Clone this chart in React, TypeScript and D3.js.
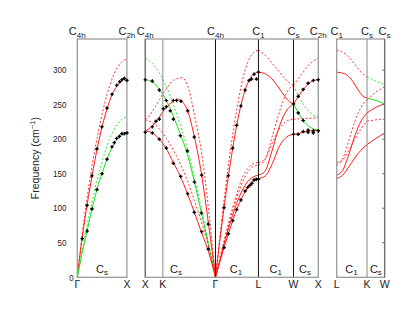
import React from 'react';
import * as d3 from 'd3';

const W = 415;
const H = 321;

// k-path positions in units of 2pi/a; three panels side by side
const panels = [[0, 1], [1.371, 4.859], [5.23, 6.196]];
const blackLines = [2.786, 3.652, 4.359];
const greyLines = [1.725, 5.842];
const yTicks = [0, 50, 100, 150, 200, 250, 300];

const topLabels: [string, number][] = [
  ['4h', 0], ['2h', 1], ['4h', 1.371], ['4h', 2.786], ['1', 3.652],
  ['s', 4.359], ['2h', 4.859], ['1', 5.23], ['s', 5.842], ['s', 6.196],
];
const bottomLabels: [string, number][] = [
  ['Γ', 0], ['X', 1], ['X', 1.371], ['K', 1.725], ['Γ', 2.786], ['L', 3.652],
  ['W', 4.359], ['X', 4.859], ['L', 5.23], ['K', 5.842], ['W', 6.196],
];
const innerLabels: [string, number][] = [
  ['s', 0.498], ['s', 1.99], ['1', 3.2], ['1', 4.0], ['s', 4.59], ['1', 5.528], ['s', 6.02],
];

type Curve = { c: 'r' | 'g'; d: boolean; p: [number, number][] };

// Γ -> X (left panel)
const gxCurves: Curve[] = [
  { c: 'r', d: false, p: [[0, 0], [0.1, 58], [0.2, 106], [0.3, 148], [0.4, 186], [0.5, 218], [0.6, 244], [0.7, 264], [0.8, 277], [0.9, 285], [0.95, 287], [1, 286]] },
  { c: 'r', d: true, p: [[0, 0], [0.1, 63], [0.2, 116], [0.3, 162], [0.4, 202], [0.5, 236], [0.6, 265], [0.7, 287], [0.8, 303], [0.9, 312], [1, 316]] },
  { c: 'g', d: false, p: [[0, 0], [0.1, 36], [0.2, 68], [0.3, 100], [0.4, 128], [0.5, 151], [0.6, 171], [0.7, 188], [0.8, 200], [0.9, 207], [1, 210]] },
  { c: 'g', d: true, p: [[0, 0], [0.1, 39], [0.2, 76], [0.3, 110], [0.4, 141], [0.5, 167], [0.6, 190], [0.7, 208], [0.8, 221], [0.9, 229], [1, 232]] },
];
const gxDots: [number, number][] = [
  [0.1, 56], [0.196, 104], [0.296, 147], [0.397, 186], [0.498, 218], [0.599, 245], [0.7, 265], [0.794, 278], [0.855, 283], [0.9, 286], [0.948, 288], [1, 285],
  [0.2, 67], [0.296, 99], [0.397, 127], [0.498, 150], [0.599, 171], [0.7, 189], [0.746, 195], [0.794, 201], [0.847, 204], [0.9, 208], [0.948, 208], [1, 209],
];

// X -> K -> Γ
const xgCurves: Curve[] = [
  { c: 'g', d: false, p: [[0, 286], [0.1, 283], [0.2, 272], [0.3, 256], [0.4, 233], [0.5, 207], [0.6, 178], [0.7, 138], [0.8, 93], [0.9, 47], [1, 0]] },
  { c: 'g', d: true, p: [[0, 317], [0.1, 310], [0.2, 296], [0.3, 276], [0.4, 250], [0.5, 220], [0.6, 186], [0.7, 145], [0.8, 99], [0.9, 50], [1, 0]] },
  { c: 'r', d: false, p: [[0, 212], [0.1, 219], [0.2, 232], [0.3, 246], [0.4, 255], [0.46, 258], [0.52, 255], [0.6, 242], [0.7, 203], [0.8, 150], [0.9, 78], [1, 0]] },
  { c: 'r', d: false, p: [[0, 212], [0.1, 209], [0.2, 200], [0.3, 186], [0.4, 166], [0.5, 146], [0.6, 121], [0.7, 94], [0.8, 65], [0.9, 37], [1, 0]] },
  { c: 'r', d: true, p: [[0, 228], [0.1, 240], [0.2, 257], [0.3, 273], [0.4, 285], [0.52, 289], [0.62, 272], [0.7, 235], [0.8, 182], [0.9, 100], [1, 0]] },
  { c: 'r', d: true, p: [[0, 228], [0.1, 224], [0.2, 215], [0.3, 201], [0.4, 184], [0.5, 164], [0.6, 140], [0.7, 111], [0.8, 80], [0.9, 45], [1, 0]] },
];
const xgDots: [number, number][] = [
  [0, 286], [0.1, 284], [0.2, 271], [0.3, 256], [0.356, 241], [0.4, 229], [0.5, 205], [0.6, 183], [0.7, 138], [0.8, 93],
  [0.1, 218], [0.152, 226], [0.2, 229], [0.256, 244], [0.3, 247], [0.4, 256], [0.447, 256], [0.509, 255], [0.604, 241], [0.698, 203], [0.803, 148], [0.897, 77],
  [0, 210], [0.1, 209], [0.2, 200], [0.3, 187], [0.4, 165], [0.504, 146], [0.604, 121], [0.698, 94], [0.803, 66], [0.897, 41],
];

// Γ -> L
const glCurves: Curve[] = [
  { c: 'r', d: false, p: [[0, 0], [0.1, 52], [0.2, 101], [0.3, 146], [0.4, 186], [0.5, 222], [0.6, 251], [0.7, 273], [0.8, 287], [0.9, 295], [1, 297]] },
  { c: 'r', d: true, p: [[0, 0], [0.1, 58], [0.2, 112], [0.3, 162], [0.4, 206], [0.5, 245], [0.6, 277], [0.7, 302], [0.8, 318], [0.9, 326], [1, 329]] },
  { c: 'r', d: false, p: [[0, 0], [0.1, 22], [0.2, 43], [0.3, 63], [0.4, 82], [0.5, 99], [0.6, 113], [0.7, 125], [0.8, 134], [0.9, 140], [1, 143]] },
  { c: 'r', d: false, p: [[0, 0], [0.1, 24], [0.2, 48], [0.3, 70], [0.4, 90], [0.5, 108], [0.6, 123], [0.7, 134], [0.8, 142], [0.9, 146], [1, 148]] },
  { c: 'r', d: true, p: [[0, 0], [0.1, 25], [0.2, 50], [0.3, 74], [0.4, 96], [0.5, 116], [0.6, 133], [0.7, 147], [0.8, 156], [0.9, 161], [1, 162]] },
  { c: 'r', d: true, p: [[0, 0], [0.1, 27], [0.2, 53], [0.3, 78], [0.4, 101], [0.5, 122], [0.6, 140], [0.7, 153], [0.8, 161], [0.9, 165], [1, 166]] },
];
const glDots: [number, number][] = [
  [0.2, 101], [0.3, 147], [0.4, 187], [0.493, 220], [0.592, 248], [0.691, 271], [0.783, 285], [0.839, 287], [0.899, 294], [0.954, 287], [1, 297],
  [0.2, 43], [0.3, 63], [0.4, 82], [0.493, 98], [0.592, 112], [0.691, 125], [0.747, 130], [0.8, 133], [0.846, 136], [0.899, 141], [0.95, 142], [1, 142],
];

// L -> W
const lwCurves: Curve[] = [
  { c: 'r', d: false, p: [[0, 297], [0.18, 295], [0.37, 288], [0.56, 276], [0.75, 262], [0.89, 254], [1, 251]] },
  { c: 'r', d: true, p: [[0, 329], [0.18, 322], [0.47, 305], [0.7, 291], [0.89, 281], [1, 278]] },
  { c: 'r', d: false, p: [[0, 148], [0.18, 153], [0.37, 180], [0.56, 213], [0.75, 237], [1, 251]] },
  { c: 'r', d: false, p: [[0, 143], [0.2, 147], [0.4, 165], [0.6, 190], [0.8, 203], [1, 207]] },
  { c: 'r', d: true, p: [[0, 162], [0.2, 172], [0.4, 205], [0.56, 233], [0.7, 255], [0.85, 271], [1, 278]] },
  { c: 'r', d: true, p: [[0, 166], [0.2, 172], [0.4, 195], [0.6, 215], [0.8, 226], [1, 229]] },
];

// W -> X
const wxCurves: Curve[] = [
  { c: 'r', d: false, p: [[0, 251], [0.2, 262], [0.4, 272], [0.6, 280], [0.8, 285], [1, 286]] },
  { c: 'g', d: false, p: [[0, 251], [0.2, 238], [0.4, 227], [0.6, 219], [0.8, 215], [1, 213]] },
  { c: 'r', d: false, p: [[0, 207], [0.2, 208], [0.4, 210], [0.6, 211.5], [0.8, 212.5], [1, 213]] },
  { c: 'r', d: true, p: [[0, 278], [0.2, 288], [0.4, 298], [0.6, 307], [0.8, 313], [1, 317]] },
  { c: 'g', d: true, p: [[0, 278], [0.2, 263], [0.4, 250], [0.6, 241], [0.8, 235], [1, 232]] },
  { c: 'r', d: true, p: [[0, 229], [0.5, 230], [1, 231]] },
];
const wxDots: [number, number][] = [
  [0, 251], [0.19, 262], [0.39, 272], [0.59, 281], [0.8, 285], [1, 286],
  [0.19, 238], [0.39, 227],
  [0, 207], [0.19, 207], [0.39, 211], [0.59, 213], [0.59, 210], [0.8, 212], [0.8, 209], [1, 212],
];

// L -> K (right panel)
const lkCurves: Curve[] = [
  { c: 'r', d: false, p: [[0, 297], [0.15, 296], [0.33, 293], [0.54, 283], [0.71, 271], [0.87, 262], [1, 259.5]] },
  { c: 'r', d: true, p: [[0, 329], [0.33, 322], [0.6, 308], [0.82, 296], [1, 290]] },
  { c: 'r', d: false, p: [[0, 148], [0.2, 155], [0.4, 178], [0.6, 205], [0.8, 226], [1, 238]] },
  { c: 'r', d: false, p: [[0, 143], [0.2, 148], [0.4, 160], [0.6, 173], [0.8, 184], [1, 192]] },
  { c: 'r', d: true, p: [[0, 162], [0.2, 172], [0.4, 198], [0.6, 226], [0.8, 246], [1, 257]] },
  { c: 'r', d: true, p: [[0, 166], [0.2, 170], [0.4, 184], [0.6, 200], [0.8, 215], [1, 226]] },
];

// K -> W
const kwCurves: Curve[] = [
  { c: 'g', d: true, p: [[0, 290], [0.5, 284], [1, 279]] },
  { c: 'g', d: false, p: [[0, 259.5], [0.5, 256], [1, 251]] },
  { c: 'r', d: false, p: [[0, 238], [0.5, 246], [1, 251]] },
  { c: 'r', d: false, p: [[0, 192], [0.5, 201], [1, 208.7]] },
  { c: 'r', d: true, p: [[0, 257], [0.5, 268], [1, 276]] },
  { c: 'r', d: true, p: [[0, 226], [0.5, 228], [1, 229]] },
];

const segments = [
  { k0: 0, k1: 1, curves: gxCurves, dots: gxDots },
  { k0: 1.371, k1: 2.786, curves: xgCurves, dots: xgDots },
  { k0: 2.786, k1: 3.652, curves: glCurves, dots: glDots },
  { k0: 3.652, k1: 4.359, curves: lwCurves, dots: [] as [number, number][] },
  { k0: 4.359, k1: 4.859, curves: wxCurves, dots: wxDots },
  { k0: 5.23, k1: 5.842, curves: lkCurves, dots: [] as [number, number][] },
  { k0: 5.842, k1: 6.196, curves: kwCurves, dots: [] as [number, number][] },
];

const RED = '#ff1a1a';
const GREEN = '#1ee01e';
const FONT = '"Liberation Sans", Arial, sans-serif';

export default function App() {
  const x = d3.scaleLinear().domain([0, 6.196]).range([77.3, 384.6]);
  const y = d3.scaleLinear().domain([0, 345]).range([277.3, 39]);
  const top = y(345);
  const bottom = y(0);
  const dotPath = d3.symbol().type(d3.symbolCross).size(7)() as string;
  const dotCore = d3.symbol().type(d3.symbolSquare).size(3.5)() as string;

  return (
    <svg width={W} height={H} style={{ position: 'absolute', left: 0, top: 0, background: '#fff' }} fontFamily={FONT}>
      {/* curves */}
      {segments.map((s, i) => {
        const line = d3.line<[number, number]>()
          .x((d) => x(s.k0 + d[0] * (s.k1 - s.k0)))
          .y((d) => y(d[1]))
          .curve(d3.curveMonotoneX);
        return (
          <g key={i}>
            {s.curves.map((c, j) => (
              <path key={j} d={line(c.p) as string} fill="none"
                stroke={c.c === 'r' ? RED : GREEN} strokeWidth={c.d ? 0.9 : 1}
                strokeDasharray={c.d ? '2,2' : undefined} />
            ))}
          </g>
        );
      })}

      {/* inner vertical lines */}
      {greyLines.map((k) => (
        <line key={'g' + k} x1={x(k)} x2={x(k)} y1={top} y2={bottom} stroke="#8a8a8a" strokeWidth={1} />
      ))}
      {blackLines.map((k) => (
        <line key={'b' + k} x1={x(k)} x2={x(k)} y1={top} y2={bottom} stroke="#111" strokeWidth={1} />
      ))}

      {/* panel frames */}
      {panels.map(([k0, k1], i) => (
        <rect key={i} x={x(k0)} y={top} width={x(k1) - x(k0)} height={bottom - top}
          fill="none" stroke="#9a9a9a" strokeWidth={1.3} />
      ))}
      <line x1={x(1.371)} x2={x(1.371)} y1={top} y2={bottom} stroke="#707070" strokeWidth={1.2} />
      <line x1={x(6.196)} x2={x(6.196)} y1={top} y2={bottom} stroke="#707070" strokeWidth={1.2} />

      {/* right-panel ticks */}
      {yTicks.slice(1).map((v) => (
        <line key={v} x1={x(6.196) - 2.5} x2={x(6.196)} y1={y(v)} y2={y(v)} stroke="#707070" strokeWidth={1} />
      ))}

      {/* experimental points */}
      {segments.map((s, i) => (
        <g key={'d' + i}>
          {s.dots.map((d, j) => (
            <g key={j} transform={`translate(${x(s.k0 + d[0] * (s.k1 - s.k0))},${y(d[1])})`}>
              <path d={dotPath} fill="#000" />
              <path d={dotCore} fill="#000" transform="rotate(45)" />
            </g>
          ))}
        </g>
      ))}

      {/* y tick labels */}
      {yTicks.map((v) => (
        <text key={v} fontSize={9.6} textAnchor={v === 0 ? 'middle' : 'end'} dominantBaseline="central"
          transform={`translate(${v === 0 ? 71.5 : 66.5},${y(v)}) scale(0.84,1)`} fill="#222">
          {v}
        </text>
      ))}

      {/* y axis title */}
      <text transform={`translate(39,${(top + bottom) / 2}) rotate(-90)`} textAnchor="middle" fontSize={10.5} fill="#222">
        Frequency (cm<tspan fontSize={7.5} dy={-4}>−1</tspan><tspan dy={4}>)</tspan>
      </text>

      {/* symmetry labels on top */}
      {topLabels.map(([sub, k], i) => (
        <text key={i} x={x(k)} y={35} textAnchor="middle" fontSize={11} fill="#222">
          C<tspan fontSize={8} dy={2.5}>{sub}</tspan>
        </text>
      ))}

      {/* point labels at the bottom */}
      {bottomLabels.map(([t, k], i) => (
        <text key={i} x={x(k)} y={288} textAnchor="middle" fontSize={10.5} fill="#222">{t}</text>
      ))}

      {/* point-group labels inside */}
      {innerLabels.map(([sub, k], i) => (
        <text key={i} x={x(k)} y={272.5} textAnchor="middle" fontSize={11} fill="#222">
          C<tspan fontSize={8} dy={2.5}>{sub}</tspan>
        </text>
      ))}
    </svg>
  );
}
